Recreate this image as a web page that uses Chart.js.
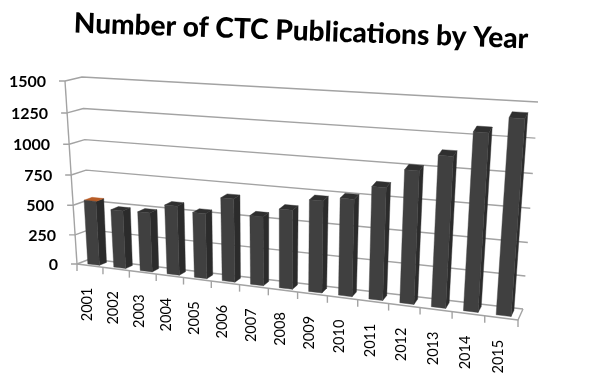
<!DOCTYPE html>
<html><head><meta charset="utf-8">
<script src="https://cdn.jsdelivr.net/npm/chart.js@4"></script>
<style>html,body{margin:0;padding:0;background:#fff}canvas{display:block}</style>
</head><body><canvas id="c" width="600" height="385"></canvas>
<script>
const chartTitle = "Number of CTC Publications by Year";
const years = ["2001","2002","2003","2004","2005","2006","2007","2008","2009","2010","2011","2012","2013","2014","2015"];
const publications = [540,484,490,569,532,672,555,630,725,760,870,1015,1140,1325,1440];
const yMax = 1500, yStep = 250;

// corners of the perspective box
const FRONT = {tl:[65,81], tr:[533,113], br:[518,320], bl:[77,264]};
const BACK  = {tl:[82,77], tr:[538,102], br:[523,309], bl:[90,259]};
const BAR_DEPTH = [0.22,0.78];
const TITLE_TILT = 2.0*Math.PI/180;

function quadH(q){
  const [x0,y0]=q.tl,[x1,y1]=q.tr,[x2,y2]=q.br,[x3,y3]=q.bl;
  const dx1=x1-x2,dx2=x3-x2,sx=x0-x1+x2-x3,dy1=y1-y2,dy2=y3-y2,sy=y0-y1+y2-y3;
  const d=dx1*dy2-dx2*dy1;
  const g=(sx*dy2-dx2*sy)/d,h=(dx1*sy-sx*dy1)/d;
  return {a:x1-x0+g*x1,b:x3-x0+h*x3,c:x0,d:y1-y0+g*y1,e:y3-y0+h*y3,f:y0,g,h};
}
const HF=quadH(FRONT),HB=quadH(BACK);
function ap(H,u,v){const w=H.g*u+H.h*v+1;return [(H.a*u+H.b*v+H.c)/w,(H.d*u+H.e*v+H.f)/w];}
function project(ca,x,y,depth){
  const u=(x-ca.left)/(ca.right-ca.left),v=(y-ca.top)/(ca.bottom-ca.top);
  const f=ap(HF,u,v),b=ap(HB,u,v);
  return [f[0]+(b[0]-f[0])*depth,f[1]+(b[1]-f[1])*depth];
}

class PerspectiveCategory extends Chart.CategoryScale{
  static id='perspectiveCategory';
  _computeLabelItems(ca){
    const items=super._computeLabelItems(ca);
    const area=this.chart.chartArea;
    items.forEach((it,i)=>{
      const p=project(area,this.getPixelForTick(i),area.bottom,0);
      it.textOffset=0;
      it.options.translation=[p[0]-3,p[1]+22];
      it.options.rotation=-Math.PI/2;
      it.options.textAlign='right';
      it.options.textBaseline='middle';
    });
    return items;
  }
}
class PerspectiveLinear extends Chart.LinearScale{
  static id='perspectiveLinear';
  _computeLabelItems(ca){
    const items=super._computeLabelItems(ca);
    const area=this.chart.chartArea;
    items.forEach((it,i)=>{
      const p=project(area,area.left,this.getPixelForTick(i),0);
      it.textOffset=0;
      it.options.translation=[p[0]-19,p[1]+1];
      it.options.textAlign='right';
      it.options.textBaseline='middle';
    });
    return items;
  }
}
Chart.register(PerspectiveCategory,PerspectiveLinear);

const box3d={
  id:'box3d',
  afterInit(chart){
    const tb=chart.titleBlock, draw=tb.draw;
    tb.draw=function(){
      const c=chart.ctx;
      c.save();c.translate(344,33);c.rotate(TITLE_TILT);c.translate(-302,-31);
      draw.call(tb);
      c.restore();
    };
  },
  beforeDatasetsDraw(chart){
    const {ctx,chartArea:ca,scales:{x,y}}=chart;
    ctx.save();
    ctx.strokeStyle='#a3a3a3';ctx.lineWidth=1.4;ctx.lineJoin='round';
    const line=(pts)=>{ctx.beginPath();pts.forEach((p,i)=>i?ctx.lineTo(p[0],p[1]):ctx.moveTo(p[0],p[1]));ctx.stroke();};
    y.ticks.forEach((t,i)=>{
      const py=y.getPixelForTick(i);
      const f=project(ca,ca.left,py,0),bl=project(ca,ca.left,py,1),br=project(ca,ca.right,py,1);
      line([[f[0]-6,f[1]],f,bl,br]);
    });
    line([project(ca,ca.left,ca.top,0),project(ca,ca.left,ca.bottom,0)]);
    line([project(ca,ca.left,ca.bottom,0),project(ca,ca.right,ca.bottom,0),project(ca,ca.right,ca.bottom,1)]);
    const n=x.ticks.length;
    for(let i=0;i<=n;i++){
      const bandX=ca.left+(ca.right-ca.left)*i/n;
      const p=project(ca,bandX,ca.bottom,0);
      line([p,[p[0],p[1]+7]]);
    }
    ctx.restore();
  },
  beforeDatasetDraw(chart,args){
    const {ctx,chartArea:ca}=chart;
    const meta=args.meta;
    const [d0,d1]=BAR_DEPTH;
    const poly=(pts,c)=>{ctx.fillStyle=c;ctx.strokeStyle=c;ctx.lineWidth=.4;ctx.beginPath();pts.forEach((p,i)=>i?ctx.lineTo(p[0],p[1]):ctx.moveTo(p[0],p[1]));ctx.closePath();ctx.fill();ctx.stroke();};
    meta.data.forEach((el,i)=>{
      const {x,y,base,width}=el.getProps(['x','y','base','width'],true);
      const L=x-width/2+1,R=x+width/2+1;
      const fTL=project(ca,L,y,d0),fTR=project(ca,R,y,d0),fBL=project(ca,L,base,d0),fBR=project(ca,R,base,d0);
      const bTL=project(ca,L,y,d1),bTR=project(ca,R,y,d1),bBR=project(ca,R,base,d1);
      poly([fTR,bTR,bBR,fBR],'#2b2b2b');
      poly([fTL,bTL,bTR,fTR],i===0?'#b85c26':'#2f2f2f');
      poly([fTL,fTR,fBR,fBL],'#404040');
    });
    return false;
  }
};

const chart=new Chart(document.getElementById('c'),{
  type:'bar',
  data:{labels:years,datasets:[{data:publications,backgroundColor:'#404040',categoryPercentage:1,barPercentage:0.45}]},
  plugins:[box3d],
  options:{
    responsive:false,animation:false,
    layout:{padding:{left:0,right:82,top:8,bottom:0}},
    plugins:{
      legend:{display:false},tooltip:{enabled:false},
      title:{display:true,text:chartTitle,color:'#000',font:{family:'Lato',size:28,weight:'900',lineHeight:1.2},padding:{top:6,bottom:33.4}}
    },
    scales:{
      x:{type:'perspectiveCategory',grid:{display:false},border:{display:false},
        afterFit(s){s.height=121;},
        ticks:{color:'#000',font:{family:'Lato',size:14.5},minRotation:90,maxRotation:90,autoSkip:false,padding:0}},
      y:{type:'perspectiveLinear',min:0,max:yMax,grid:{display:false},border:{display:false},
        afterFit(s){s.width=77;},
        ticks:{stepSize:yStep,color:'#000',font:{family:'Lato',size:16,weight:'bold'},padding:0,callback:v=>String(v)}}
    }
  }
});
</script></body></html>
